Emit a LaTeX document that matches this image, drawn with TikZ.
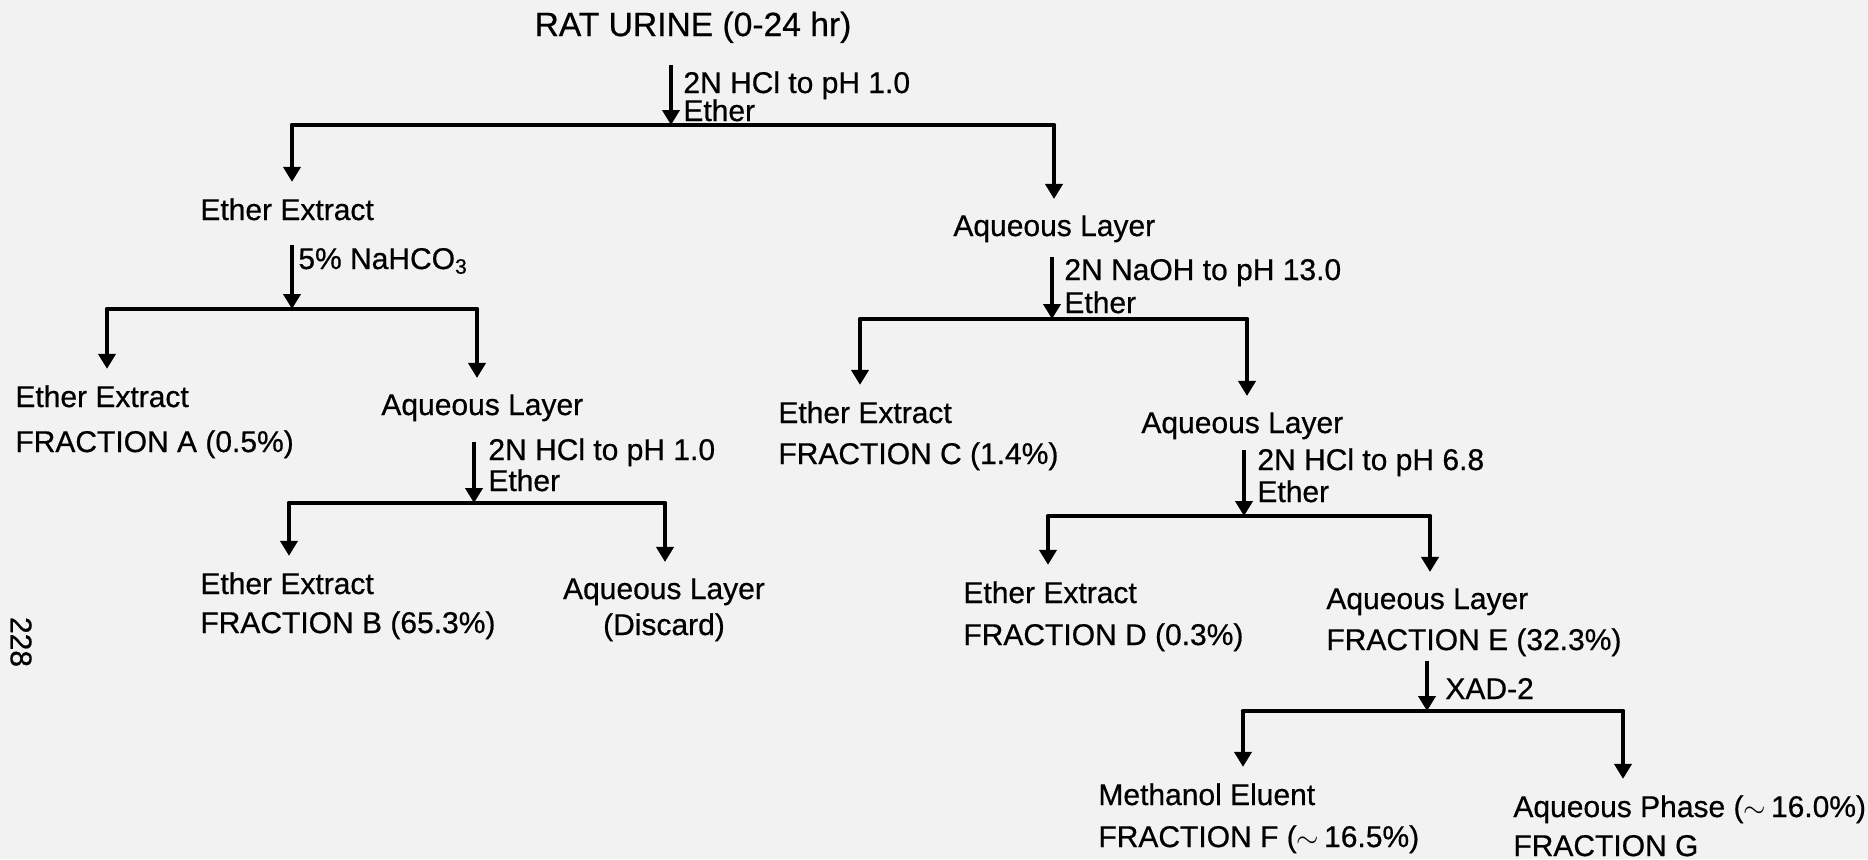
\documentclass[tikz,border=0pt]{standalone}
\usepackage{fontspec}
\setmainfont{Liberation Sans}
\newfontfamily\heavy{Liberation Sans}[FakeBold=0.6]
\usetikzlibrary{arrows.meta}
\begin{document}
\begin{tikzpicture}[x=0.5pt,y=-0.5pt,
  lbl/.style={inner sep=0pt, font=\heavy\fontsize{15}{20}\selectfont, anchor=base west},
  ctr/.style={lbl, anchor=base},
  bar/.style={line width=2.2pt, line cap=round},
  arr/.style={line width=2pt, -{Triangle[length=7.5pt,width=8.5pt]}},
  drop/.style={arr, shorten >=8pt}]
\useasboundingbox[fill=black!5] (0,0) rectangle (1868,859);

% ---- texts ----
\node[ctr, font=\heavy\fontsize{16.8}{20}\selectfont] (rat) at (693,36) {RAT URINE (0-24 hr)};
\node[lbl] (s1a) at (683,93) {2N HCl to pH 1.0};
\node[lbl] (s1b) at (683,121) {Ether};

\node[lbl] (ee1) at (200,220) {Ether Extract};
\node[lbl] (aq1) at (953,236) {Aqueous Layer};

\node[lbl] (s2a) at (298,269) {5\% NaHCO\textsubscript{3}};

\node[lbl] (ee2) at (15,407) {Ether Extract};
\node[lbl] (fa)  at (15,452) {FRACTION A (0.5\%)};
\node[lbl] (aq2) at (381,415) {Aqueous Layer};

\node[lbl] (s3a) at (488,460) {2N HCl to pH 1.0};
\node[lbl] (s3b) at (488,491) {Ether};

\node[lbl] (ee3) at (200,594) {Ether Extract};
\node[lbl] (fb)  at (200,633) {FRACTION B (65.3\%)};
\node[ctr] (aq3) at (664,599) {Aqueous Layer};
\node[ctr] (dis) at (664,635) {(Discard)};

\node[lbl] (s4a) at (1064,280) {2N NaOH to pH 13.0};
\node[lbl] (s4b) at (1064,313) {Ether};

\node[lbl] (ee4) at (778,423) {Ether Extract};
\node[lbl] (fc)  at (778,464) {FRACTION C (1.4\%)};
\node[lbl] (aq4) at (1141,433) {Aqueous Layer};

\node[lbl] (s5a) at (1257,470) {2N HCl to pH 6.8};
\node[lbl] (s5b) at (1257,502) {Ether};

\node[lbl] (ee5) at (963,603) {Ether Extract};
\node[lbl] (fd)  at (963,645) {FRACTION D (0.3\%)};
\node[lbl] (aq5) at (1326,609) {Aqueous Layer};
\node[lbl] (fe)  at (1326,650) {FRACTION E (32.3\%)};

\node[lbl] (s6a) at (1445,699) {XAD-2};

\node[lbl] (me)  at (1098,805) {Methanol Eluent};
\node[lbl] (ff)  at (1098,847) {FRACTION F ($\sim$\,16.5\%)};
\node[lbl] (ap)  at (1513,817) {Aqueous Phase ($\sim$\,16.0\%)};
\node[lbl] (fg)  at (1513,856) {FRACTION G};

\node[lbl, anchor=center, rotate=-90] (pg) at (21,642) {228};

% ---- junctions ----
\coordinate (j1) at (671,125);  \coordinate (b1l) at (292,125);  \coordinate (b1r) at (1054,125);
\coordinate (j2) at (292,309);  \coordinate (b2l) at (107,309);  \coordinate (b2r) at (477,309);
\coordinate (j3) at (474,503);  \coordinate (b3l) at (289,503);  \coordinate (b3r) at (665,503);
\coordinate (j4) at (1052,319); \coordinate (b4l) at (860,319);  \coordinate (b4r) at (1247,319);
\coordinate (j5) at (1244,516); \coordinate (b5l) at (1048,516); \coordinate (b5r) at (1430,516);
\coordinate (j6) at (1427,711); \coordinate (b6l) at (1243,711); \coordinate (b6r) at (1623,711);

% ---- stems ----
\draw[arr, shorten <=11pt] (rat.south -| j1) -- (j1);
\draw[arr, shorten <=12pt] (ee1.south -| j2) -- (j2);
\draw[arr, shorten <=10pt] (aq2.south -| j3) -- (j3);
\draw[arr, shorten <=7pt]  (aq1.south -| j4) -- (j4);
\draw[arr, shorten <=5pt]  (aq4.south -| j5) -- (j5);
\draw[arr, shorten <=2pt]  (fe.south -| j6) -- (j6);

% ---- bars ----
\draw[bar] (b1l) -- (b1r);
\draw[bar] (b2l) -- (b2r);
\draw[bar] (b3l) -- (b3r);
\draw[bar] (b4l) -- (b4r);
\draw[bar] (b5l) -- (b5r);
\draw[bar] (b6l) -- (b6r);

% ---- drops ----
\draw[drop] (b1l) -- (b1l |- ee1.north);
\draw[drop] (b1r) -- (b1r |- aq1.north);
\draw[drop] (b2l) -- (b2l |- ee2.north);
\draw[drop] (b2r) -- (b2r |- aq2.north);
\draw[drop] (b3l) -- (b3l |- ee3.north);
\draw[drop] (b3r) -- (b3r |- aq3.north);
\draw[drop] (b4l) -- (b4l |- ee4.north);
\draw[drop] (b4r) -- (b4r |- aq4.north);
\draw[drop] (b5l) -- (b5l |- ee5.north);
\draw[drop] (b5r) -- (b5r |- aq5.north);
\draw[drop] (b6l) -- (b6l |- me.north);
\draw[drop] (b6r) -- (b6r |- ap.north);
\end{tikzpicture}
\end{document}
